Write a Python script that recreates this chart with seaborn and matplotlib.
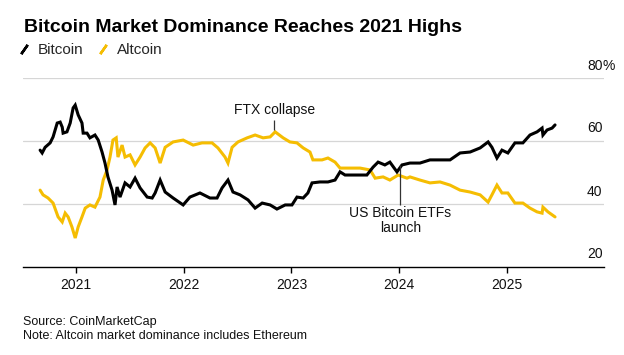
"""
Bitcoin vs altcoin market dominance, redrawn from the Bloomberg-style chart
"""

import matplotlib
matplotlib.use("Agg")
import matplotlib.pyplot as plt
from matplotlib.lines import Line2D
import pandas as pd
import seaborn as sns

# --- data (share of total crypto market cap, %) ---
btc_dates = [
    "2020-09-01", "2020-09-08", "2020-09-18", "2020-10-05", "2020-10-15", "2020-10-29",
    "2020-11-08", "2020-11-15", "2020-11-18", "2020-12-01", "2020-12-12", "2020-12-22",
    "2020-12-29", "2021-01-08", "2021-01-21", "2021-01-25", "2021-02-07", "2021-02-17",
    "2021-03-06", "2021-03-17", "2021-03-30", "2021-04-09", "2021-04-19", "2021-05-03",
    "2021-05-13", "2021-05-20", "2021-05-30", "2021-06-16", "2021-07-03", "2021-07-20",
    "2021-08-06", "2021-08-30", "2021-09-16", "2021-09-26", "2021-10-13", "2021-10-30",
    "2021-11-26", "2021-12-30", "2022-01-22", "2022-02-25", "2022-03-31", "2022-04-24",
    "2022-05-11", "2022-05-31", "2022-06-17", "2022-07-11", "2022-08-07", "2022-08-31",
    "2022-09-24", "2022-10-21", "2022-11-13", "2022-12-11", "2023-01-03", "2023-01-20",
    "2023-02-10", "2023-02-26", "2023-03-12", "2023-04-08", "2023-05-05", "2023-05-29",
    "2023-06-15", "2023-07-02", "2023-08-05", "2023-09-14", "2023-10-05", "2023-10-22",
    "2023-11-14", "2023-12-01", "2023-12-25", "2024-01-11", "2024-02-07", "2024-03-12",
    "2024-04-15", "2024-05-19", "2024-06-22", "2024-07-26", "2024-08-29", "2024-10-02",
    "2024-10-29", "2024-11-11", "2024-11-28", "2024-12-15", "2025-01-04", "2025-01-28",
    "2025-02-24", "2025-03-20", "2025-04-13", "2025-04-30", "2025-05-03", "2025-05-17",
    "2025-06-03", "2025-06-13",
]
btc_share = [
    57.1, 56.2, 58.0, 59.4, 61.3, 65.7,
    66.0, 64.4, 62.5, 62.9, 65.7, 70.5,
    71.4, 68.3, 65.7, 62.5, 62.5, 61.0,
    61.9, 60.3, 56.5, 53.0, 48.6, 44.4,
    39.7, 45.4, 42.2, 46.7, 45.4, 48.2,
    45.1, 42.2, 41.9, 43.5, 47.6, 43.8,
    41.9, 39.7, 42.2, 43.5, 41.9, 41.9,
    45.1, 47.6, 43.8, 42.9, 41.3, 38.7,
    40.3, 39.7, 38.4, 39.7, 39.7, 42.2,
    41.9, 43.5, 46.7, 47.0, 47.0, 47.6,
    50.2, 49.2, 49.2, 49.2, 51.7, 53.3,
    52.4, 53.3, 50.2, 52.4, 53.0, 53.0,
    54.0, 54.0, 54.0, 56.2, 56.5, 57.8,
    59.7, 58.0, 54.6, 57.1, 56.2, 59.4,
    59.4, 61.9, 62.9, 64.1, 61.9, 63.5,
    64.1, 65.1,
]

alt_dates = [
    "2020-09-01", "2020-09-11", "2020-09-28", "2020-10-15", "2020-11-01", "2020-11-15",
    "2020-11-25", "2020-12-05", "2020-12-18", "2020-12-29", "2021-01-08", "2021-01-21",
    "2021-02-01", "2021-02-17", "2021-03-06", "2021-03-23", "2021-04-03", "2021-04-16",
    "2021-04-26", "2021-05-06", "2021-05-17", "2021-05-23", "2021-06-06", "2021-06-16",
    "2021-07-03", "2021-07-20", "2021-08-06", "2021-08-23", "2021-09-09", "2021-09-26",
    "2021-10-13", "2021-10-30", "2021-11-26", "2021-12-30", "2022-02-02", "2022-03-04",
    "2022-04-07", "2022-04-27", "2022-05-21", "2022-05-31", "2022-06-14", "2022-07-04",
    "2022-08-04", "2022-08-31", "2022-09-27", "2022-10-21", "2022-11-07", "2022-12-04",
    "2022-12-27", "2023-01-20", "2023-02-10", "2023-03-05", "2023-03-15", "2023-04-15",
    "2023-05-05", "2023-05-29", "2023-06-15", "2023-07-19", "2023-08-22", "2023-09-25",
    "2023-10-12", "2023-11-08", "2023-12-01", "2023-12-29", "2024-01-28", "2024-02-07",
    "2024-03-12", "2024-04-15", "2024-05-19", "2024-06-22", "2024-07-26", "2024-08-29",
    "2024-10-02", "2024-10-29", "2024-11-11", "2024-11-28", "2024-12-15", "2025-01-04",
    "2025-01-28", "2025-02-24", "2025-03-20", "2025-04-13", "2025-04-30", "2025-05-03",
    "2025-05-20", "2025-06-13",
]
alt_share = [
    44.4, 42.9, 41.9, 40.3, 35.9, 34.3,
    37.1, 35.9, 32.7, 29.2, 32.7, 35.9,
    38.7, 39.7, 39.0, 42.2, 47.6, 50.8,
    54.9, 60.3, 61.0, 54.9, 58.7, 54.9,
    55.6, 52.4, 54.9, 57.8, 59.4, 57.8,
    53.0, 58.0, 59.7, 60.3, 58.7, 59.4,
    59.4, 57.8, 54.9, 53.0, 58.0, 59.7,
    61.0, 61.9, 61.0, 61.3, 62.9, 61.0,
    59.7, 59.4, 57.8, 56.5, 54.0, 54.0,
    54.6, 53.3, 51.4, 51.4, 51.4, 50.8,
    48.2, 48.6, 47.6, 49.2, 48.2, 48.6,
    47.6, 46.7, 47.0, 46.0, 44.4, 43.8,
    42.9, 40.6, 42.9, 46.0, 43.5, 43.5,
    40.3, 40.3, 38.7, 37.5, 37.1, 39.0,
    37.5, 35.9,
]

series_names = ["Bitcoin", "Altcoin"]
series_colors = ["#000000", "#f5bd02"]

year_ticks = ["2021-01-01", "2022-01-01", "2023-01-01", "2024-01-01", "2025-01-01"]
year_labels = ["2021", "2022", "2023", "2024", "2025"]
y_ticks = [20, 40, 60, 80]

# event annotations
ftx_date, ftx_label = "2022-11-04", "FTX collapse"
etf_date, etf_label = "2024-01-05", "US Bitcoin ETFs\nlaunch"

title = "Bitcoin Market Dominance Reaches 2021 Highs"
source = "Source: CoinMarketCap"
note = "Note: Altcoin market dominance includes Ethereum"

W, H = 624, 355


def build_frame():
    btc = pd.DataFrame({"date": pd.to_datetime(btc_dates), "share": btc_share,
                        "series": series_names[0]})
    alt = pd.DataFrame({"date": pd.to_datetime(alt_dates), "share": alt_share,
                        "series": series_names[1]})
    return pd.concat([alt, btc], ignore_index=True)


def main():
    sns.set_theme(style="white")
    plt.rcParams["font.family"] = ["Liberation Sans", "DejaVu Sans"]

    df = build_frame()

    fig = plt.figure(figsize=(W / 100, H / 100), dpi=100)
    ax = fig.add_axes([23 / W, 1 - 267 / H, (604 - 23) / W, (267 - 78) / H])

    sns.lineplot(data=df, x="date", y="share", hue="series",
                 hue_order=series_names[::-1], palette=series_colors[::-1],
                 linewidth=2.2, legend=False, estimator=None, sort=True, ax=ax)
    for line in ax.get_lines():
        line.set_solid_joinstyle("miter")

    ax.set_xlim(pd.Timestamp("2020-07-05"), pd.Timestamp("2025-11-26"))
    ax.set_ylim(20, 80)

    # grid + axis styling
    for v in y_ticks[1:]:
        ax.axhline(v, color="#d6d6d6", linewidth=0.9, zorder=0)
    for s in ["top", "right", "left"]:
        ax.spines[s].set_visible(False)
    ax.spines["bottom"].set_color("#000000")
    ax.spines["bottom"].set_linewidth(1.0)

    ax.set_xticks(pd.to_datetime(year_ticks))
    ax.set_xticklabels(year_labels)
    ax.tick_params(axis="x", direction="out", length=4.5, width=1.0, color="#000000",
                   labelsize=10, labelcolor="#111111", pad=3.5, bottom=True)
    ax.set_yticks([])
    ax.set_xlabel("")
    ax.set_ylabel("")

    # right-hand value labels sitting above their grid lines
    for v in y_ticks:
        ax.annotate(str(v), xy=(1.0, v), xycoords=("axes fraction", "data"),
                    xytext=(-1, 9), textcoords="offset points",
                    ha="right", va="center", fontsize=10, color="#111111")
    ax.annotate("%", xy=(1.0, y_ticks[-1]), xycoords=("axes fraction", "data"),
                xytext=(-1, 9), textcoords="offset points",
                ha="left", va="center", fontsize=10, color="#111111")

    ftx = pd.Timestamp(ftx_date)
    ax.vlines(ftx, 63.4, 66.7, color="#333333", linewidth=0.9)
    ax.text(ftx, 67.6, ftx_label, ha="center", va="bottom", fontsize=10, color="#111111")

    etf = pd.Timestamp(etf_date)
    ax.vlines(etf, 39.8, 52.5, color="#333333", linewidth=0.9, zorder=3)
    ax.text(etf, 39.3, etf_label, ha="center", va="top", fontsize=10,
            color="#111111", linespacing=1.05)

    # title, legend, footnotes
    fig.text(24 / W, 1 - 27 / H, title, fontsize=14, fontweight="bold",
             ha="left", va="center", color="#000000")

    handles = [Line2D([], [], linestyle="none", marker=(2, 2, -35), markersize=8,
                      markeredgewidth=1.8, color=c) for c in series_colors]
    fig.legend(handles, series_names, loc="center left",
               bbox_to_anchor=(18 / W, 1 - 50 / H), frameon=False, ncol=2,
               fontsize=11, handlelength=0.8, handletextpad=0.5, columnspacing=0.9,
               borderaxespad=0, borderpad=0)

    fig.text(23 / W, 1 - 322 / H, source, fontsize=9, ha="left", va="center",
             color="#111111")
    fig.text(23 / W, 1 - 336 / H, note, fontsize=9, ha="left", va="center",
             color="#111111")

    fig.savefig("out.png", dpi=100, facecolor="white")
    plt.close(fig)


if __name__ == "__main__":
    main()
